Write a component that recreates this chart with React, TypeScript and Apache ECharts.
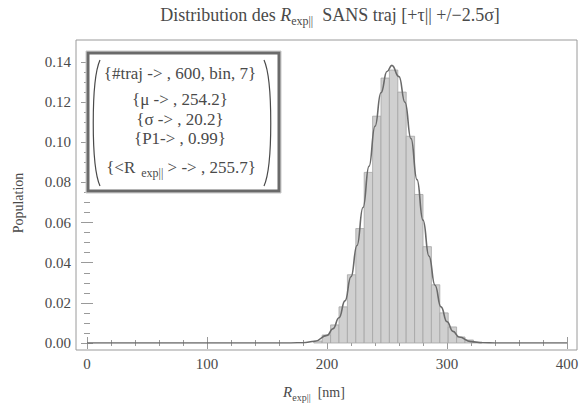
import React, { useEffect, useRef } from "react";
import * as echarts from "echarts";

// Histogram (bin width 7 nm), fraction of population per bin
const binWidth = 7;
const binStarts = [189, 196, 203, 210, 217, 224, 231, 238, 245, 252, 259, 266, 273, 280, 287, 294, 301, 308, 315, 322];
const binValues = [0.001, 0.004, 0.009, 0.018, 0.034, 0.057, 0.085, 0.113, 0.132, 0.136, 0.125, 0.103, 0.074, 0.048, 0.029, 0.015, 0.008, 0.003, 0.0015, 0.0005];

// Fitted curve
const curveX = [0, 100, 150, 170, 180, 190, 200, 205, 210, 215, 220, 225, 230, 235, 240, 245, 250, 254, 260, 265, 270, 275, 280, 285, 290, 295, 300, 305, 310, 320, 330, 340, 360, 400];
const curveY = [0, 0, 0, 0.00002, 0.00016, 0.0009, 0.0038, 0.0071, 0.0126, 0.021, 0.033, 0.0486, 0.0675, 0.088, 0.108, 0.1247, 0.1353, 0.1383, 0.1327, 0.1199, 0.1018, 0.0814, 0.0612, 0.0433, 0.0288, 0.018, 0.0106, 0.0058, 0.003, 0.0007, 0.0001, 0, 0, 0];

const xTicks = [0, 100, 200, 300, 400];
const yTicks = [0, 0.02, 0.04, 0.06, 0.08, 0.1, 0.12, 0.14];

const legendLines = [
  "{#traj -> , 600, bin, 7}",
  "{μ -> , 254.2}",
  "{σ -> , 20.2}",
  "{P1-> , 0.99}",
];
const legendLast = ["{<R", "exp||", "> -> , 255.7}"];

const SERIF = "'Liberation Serif', 'DejaVu Serif', serif";
const TXT = "#4a4a4a";
const FRAME = "#9a9a9a";

export default function App() {
  const ref = useRef<HTMLDivElement>(null);
  useEffect(() => {
    if (!ref.current) return;
    const chart = echarts.init(ref.current, undefined, { renderer: "svg" });
    const tickCommon = {
      axisLine: { show: false },
      axisTick: { show: true, inside: true, length: 6, lineStyle: { color: FRAME } },
      splitLine: { show: false },
    };
    const xBase = {
      type: "value" as const,
      min: xTicks[0],
      max: xTicks[xTicks.length - 1],
      interval: 100,
      minorTick: { show: true, splitNumber: 5, length: 3, lineStyle: { color: FRAME } },
    };
    const yBase = {
      type: "value" as const,
      min: yTicks[0],
      max: yTicks[yTicks.length - 1],
      interval: 0.02,
      minorTick: { show: true, splitNumber: 4, length: 3, lineStyle: { color: FRAME } },
    };
    const lineTexts = legendLines.map((t, i) => ({
      type: "text",
      x: 180,
      y: [73, 99, 119, 138][i],
      z: 11,
      style: {
        text: t,
        font: `17px ${SERIF}`,
        fill: TXT,
        align: "center",
        verticalAlign: "middle",
      },
    }));
    chart.setOption({
      animation: false,
      backgroundColor: "#ffffff",
      grid: { left: 87, right: 15, top: 62, bottom: 69 },
      xAxis: [
        {
          ...tickCommon,
          ...xBase,
          position: "bottom",
          offset: 7,
          axisLabel: { show: true, margin: 6, color: TXT, fontFamily: SERIF, fontSize: 15 },
        },
        {
          ...tickCommon,
          ...xBase,
          position: "top",
          offset: 22,
          axisLabel: { show: false },
        },
      ],
      yAxis: [
        {
          ...tickCommon,
          ...yBase,
          position: "left",
          offset: 11,
          axisLabel: {
            show: true,
            margin: 5,
            color: TXT,
            fontFamily: SERIF,
            fontSize: 15,
            formatter: (v: number) => v.toFixed(2),
          },
        },
        {
          ...tickCommon,
          ...yBase,
          position: "right",
          offset: 10,
          axisLabel: { show: false },
        },
      ],
      series: [
        {
          type: "custom",
          xAxisIndex: 0,
          yAxisIndex: 0,
          data: binStarts.map((s, i) => [s, s + binWidth, binValues[i]]),
          encode: { x: [0, 1], y: 2 },
          renderItem: (_p: any, api: any) => {
            const a = api.coord([api.value(0), api.value(2)]);
            const b = api.coord([api.value(1), 0]);
            return {
              type: "rect",
              shape: { x: a[0], y: a[1], width: b[0] - a[0], height: b[1] - a[1] },
              style: { fill: "#d0d0d0", stroke: "#a4a4a4", lineWidth: 0.8 },
            };
          },
        },
        {
          type: "line",
          xAxisIndex: 0,
          yAxisIndex: 0,
          data: curveX.map((x, i) => [x, curveY[i]]),
          smooth: true,
          smoothMonotone: "x",
          showSymbol: false,
          symbol: "none",
          lineStyle: { color: "#6a6a6a", width: 1.6 },
          z: 3,
        },
      ],
      graphic: [
        {
          type: "rect",
          shape: { x: 76, y: 40, width: 501, height: 310 },
          style: { fill: "none", stroke: FRAME, lineWidth: 1 },
          silent: true,
        },
        {
          type: "text",
          x: 330,
          y: 15,
          style: {
            text: "Distribution des {i|R}{s|exp||}  SANS traj [+τ|| +/−2.5σ]",
            font: `18px ${SERIF}`,
            fill: TXT,
            align: "center",
            verticalAlign: "middle",
            rich: {
              i: { fontStyle: "italic", fontSize: 18, fontFamily: SERIF, fill: TXT },
              s: { fontSize: 12, fontFamily: SERIF, fill: TXT, padding: [11, 0, 0, 0] },
            },
          },
        },
        {
          type: "text",
          x: 18,
          y: 203,
          rotation: Math.PI / 2,
          style: {
            text: "Population",
            font: `14px ${SERIF}`,
            fill: TXT,
            align: "center",
            verticalAlign: "middle",
          },
        },
        {
          type: "text",
          x: 314,
          y: 392,
          style: {
            text: "{i|R}{s|exp||}  [nm]",
            font: `14px ${SERIF}`,
            fill: TXT,
            align: "center",
            verticalAlign: "middle",
            rich: {
              i: { fontStyle: "italic", fontSize: 15, fontFamily: SERIF, fill: TXT },
              s: { fontSize: 10, fontFamily: SERIF, fill: TXT, padding: [10, 0, 0, 0] },
            },
          },
        },
        {
          type: "rect",
          shape: { x: 86, y: 51, width: 195, height: 142 },
          style: { fill: "#ffffff", stroke: "#c8c8c8", lineWidth: 1 },
          z: 10,
        },
        {
          type: "rect",
          shape: { x: 88, y: 53, width: 191, height: 138 },
          style: { fill: "#ffffff", stroke: "#6a6a6a", lineWidth: 3 },
          z: 10,
        },
        {
          type: "bezierCurve",
          shape: { x1: 100, y1: 60, cpx1: 91, cpy1: 80, cpx2: 91, cpy2: 166, x2: 100, y2: 186 },
          style: { stroke: TXT, lineWidth: 1.2, fill: "none" },
          z: 11,
        },
        {
          type: "bezierCurve",
          shape: { x1: 264, y1: 60, cpx1: 273, cpy1: 80, cpx2: 273, cpy2: 166, x2: 264, y2: 186 },
          style: { stroke: TXT, lineWidth: 1.2, fill: "none" },
          z: 11,
        },
        ...lineTexts,
        {
          type: "text",
          x: 181,
          y: 167,
          z: 11,
          style: {
            text: `{n|${legendLast[0]}}{s|  ${legendLast[1]}}{n| ${legendLast[2]}}`,
            font: `17px ${SERIF}`,
            fill: TXT,
            align: "center",
            verticalAlign: "middle",
            rich: {
              n: { fontSize: 17, fontFamily: SERIF, fill: TXT },
              s: { fontSize: 12, fontFamily: SERIF, fill: TXT, padding: [11, 0, 0, 0] },
            },
          },
        },
      ],
    });
    return () => chart.dispose();
  }, []);
  return (
    <div
      ref={ref}
      style={{ position: "absolute", left: 0, top: 0, width: 582, height: 412 }}
    />
  );
}
